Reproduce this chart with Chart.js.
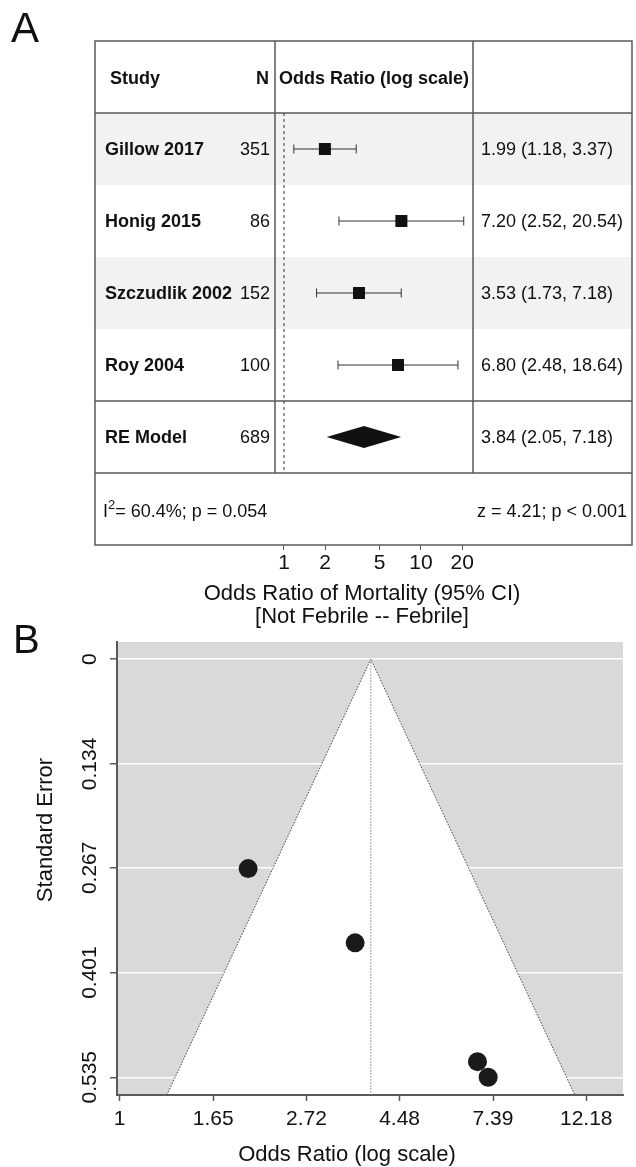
<!DOCTYPE html>
<html>
<head>
<meta charset="utf-8">
<script src="https://cdn.jsdelivr.net/npm/chart.js@4.4.0/dist/chart.umd.min.js"></script>
<style>
  html, body { margin: 0; padding: 0; background: #fff; }
  #wrap { position: relative; width: 636px; height: 1167px; }
  canvas { position: absolute; left: 0; }
  #forest { top: 0; width: 636px; height: 640px; }
  #funnel { top: 600px; width: 636px; height: 567px; }
</style>
</head>
<body>
<div id="wrap">
  <canvas id="forest" width="636" height="640"></canvas>
  <canvas id="funnel" width="636" height="567"></canvas>
</div>
<script>
// study level data
const studies = ["Gillow 2017", "Honig 2015", "Szczudlik 2002", "Roy 2004"];
const sampleN = [351, 86, 152, 100];
const oddsRatio = [1.99, 7.20, 3.53, 6.80];
const ciLow = [1.18, 2.52, 1.73, 2.48];
const ciHigh = [3.37, 20.54, 7.18, 18.64];
const stdError = [0.268, 0.535, 0.363, 0.515];

// random effects summary
const reLabel = "RE Model";
const reN = 689;
const reOR = 3.84;
const reLow = 2.05;
const reHigh = 7.18;
const hetI2 = "60.4%";
const hetP = "0.054";
const zValue = "4.21";
const zP = "< 0.001";

// axis ticks
const forestTicks = [1, 2, 5, 10, 20];
const funnelXTicks = [1, 1.65, 2.72, 4.48, 7.39, 12.18];
const funnelYTicks = [0, 0.134, 0.267, 0.401, 0.535];

const FONT = '"Liberation Sans", Arial, Helvetica, sans-serif';
const INK = "#111";
const LINE = "#5a5a5a";
const Z95 = 1.96;

const fmt = (v) => v.toFixed(2);

// ---------- panel A : forest plot ----------
const forestTable = {
  id: "forestTable",
  beforeDatasetsDraw(chart) {
    const { ctx, chartArea: a, scales: { x, y } } = chart;
    const L = 95, R = 632;
    const top = (i) => y.getPixelForValue(i - 0.5);
    ctx.save();
    ctx.fillStyle = "#f2f2f2";
    [1, 3].forEach((i) => ctx.fillRect(L, top(i), R - L, top(i + 1) - top(i)));

    ctx.strokeStyle = LINE;
    ctx.lineWidth = 1.5;
    ctx.strokeRect(L, a.top, R - L, a.bottom - a.top);
    ctx.beginPath();
    [1, 5, 6].forEach((i) => { ctx.moveTo(L, top(i)); ctx.lineTo(R, top(i)); });
    ctx.moveTo(a.left, a.top); ctx.lineTo(a.left, top(6));
    ctx.moveTo(a.right, a.top); ctx.lineTo(a.right, top(6));
    ctx.stroke();

    // null line
    const x1 = x.getPixelForValue(1);
    ctx.strokeStyle = "#333";
    ctx.lineWidth = 1;
    ctx.setLineDash([3, 3]);
    ctx.beginPath();
    ctx.moveTo(x1, top(1)); ctx.lineTo(x1, top(6));
    ctx.stroke();
    ctx.setLineDash([]);

    // confidence intervals
    ctx.strokeStyle = "#333";
    studies.forEach((s, i) => {
      const yc = y.getPixelForValue(i + 1);
      const xl = x.getPixelForValue(ciLow[i]);
      const xh = x.getPixelForValue(ciHigh[i]);
      ctx.beginPath();
      ctx.moveTo(xl, yc); ctx.lineTo(xh, yc);
      ctx.moveTo(xl, yc - 4.5); ctx.lineTo(xl, yc + 4.5);
      ctx.moveTo(xh, yc - 4.5); ctx.lineTo(xh, yc + 4.5);
      ctx.stroke();
    });

    // summary diamond
    const yd = y.getPixelForValue(5);
    ctx.fillStyle = INK;
    ctx.beginPath();
    ctx.moveTo(x.getPixelForValue(reLow), yd);
    ctx.lineTo(x.getPixelForValue(reOR), yd - 11);
    ctx.lineTo(x.getPixelForValue(reHigh), yd);
    ctx.lineTo(x.getPixelForValue(reOR), yd + 11);
    ctx.closePath();
    ctx.fill();
    ctx.restore();
  },
  afterDraw(chart) {
    const { ctx, chartArea: a, scales: { y } } = chart;
    const bold = `bold 18px ${FONT}`;
    const norm = `18px ${FONT}`;
    ctx.save();
    ctx.fillStyle = INK;
    ctx.textBaseline = "middle";
    const put = (t, px, py, font, align) => { ctx.font = font; ctx.textAlign = align; ctx.fillText(t, px, py); };

    const yh = y.getPixelForValue(0) + 2;
    put("Study", 110, yh, bold, "left");
    put("N", 269, yh, bold, "right");
    put("Odds Ratio (log scale)", (a.left + a.right) / 2, yh, bold, "center");

    studies.forEach((s, i) => {
      const yc = y.getPixelForValue(i + 1) + 1;
      put(s, 105, yc, bold, "left");
      put(String(sampleN[i]), 270, yc, norm, "right");
      put(`${fmt(oddsRatio[i])} (${fmt(ciLow[i])}, ${fmt(ciHigh[i])})`, 481, yc, norm, "left");
    });
    const yr = y.getPixelForValue(5) + 1;
    put(reLabel, 105, yr, bold, "left");
    put(String(reN), 270, yr, norm, "right");
    put(`${fmt(reOR)} (${fmt(reLow)}, ${fmt(reHigh)})`, 481, yr, norm, "left");

    // heterogeneity row
    const ys = y.getPixelForValue(6) + 3;
    let xx = 103;
    put("I", xx, ys, norm, "left"); xx += ctx.measureText("I").width;
    put("2", xx, ys - 7, `13px ${FONT}`, "left"); xx += ctx.measureText("2").width;
    put(`= ${hetI2}; p = ${hetP}`, xx, ys, norm, "left");
    put(`z = ${zValue}; p ${zP}`, 627, ys, norm, "right");

    // axis title
    put("Odds Ratio of Mortality (95% CI)", 362, 594, `22px ${FONT}`, "center");
    put("[Not Febrile -- Febrile]", 362, 617, `22px ${FONT}`, "center");

    ctx.textBaseline = "alphabetic";
    put("A", 11, 42, `42px ${FONT}`, "left");
    ctx.restore();
  }
};

new Chart(document.getElementById("forest"), {
  type: "scatter",
  data: {
    datasets: [{
      data: oddsRatio.map((v, i) => ({ x: v, y: i + 1 })),
      pointStyle: "rect",
      pointRadius: 8.5,
      backgroundColor: INK,
      borderWidth: 0,
    }],
  },
  options: {
    responsive: false,
    animation: false,
    events: [],
    layout: { padding: { left: 275, right: 163, top: 41, bottom: 0 } },
    plugins: { legend: { display: false }, tooltip: { enabled: false } },
    scales: {
      x: {
        type: "logarithmic",
        min: 0.86,
        max: 24,
        afterBuildTicks: (s) => { s.ticks = forestTicks.map((v) => ({ value: v })); },
        afterFit: (s) => { s.height = 95; },
        grid: { drawOnChartArea: false, tickLength: 5, tickColor: LINE, tickWidth: 1 },
        border: { display: false },
        ticks: {
          callback: (v) => String(v),
          autoSkip: false,
          maxRotation: 0,
          padding: 1,
          color: INK,
          font: { family: FONT, size: 21, lineHeight: 1.2 },
        },
      },
      y: { type: "linear", reverse: true, min: -0.5, max: 6.5, display: false },
    },
  },
  plugins: [forestTable],
});

// ---------- panel B : funnel plot ----------
const funnelBg = {
  id: "funnelBg",
  beforeDraw(chart) {
    const { ctx, chartArea: a, scales: { x, y } } = chart;
    const seMax = y.max;
    const lnEst = Math.log(reOR);
    ctx.save();
    ctx.fillStyle = "#d9d9d9";
    ctx.fillRect(a.left, a.top, a.right - a.left, a.bottom - a.top);
    ctx.fillStyle = "#fff";
    ctx.beginPath();
    ctx.moveTo(x.getPixelForValue(reOR), y.getPixelForValue(0));
    ctx.lineTo(x.getPixelForValue(Math.exp(lnEst - Z95 * seMax)), y.getPixelForValue(seMax));
    ctx.lineTo(x.getPixelForValue(Math.exp(lnEst + Z95 * seMax)), y.getPixelForValue(seMax));
    ctx.closePath();
    ctx.fill();
    ctx.restore();
  },
  beforeDatasetsDraw(chart) {
    const { ctx, scales: { x, y } } = chart;
    const seMax = y.max;
    const lnEst = Math.log(reOR);
    const xe = x.getPixelForValue(reOR);
    const y0 = y.getPixelForValue(0);
    const yb = y.getPixelForValue(seMax);
    ctx.save();
    ctx.lineWidth = 1;
    ctx.setLineDash([1.5, 1.5]);
    ctx.strokeStyle = "#444";
    ctx.beginPath();
    ctx.moveTo(x.getPixelForValue(Math.exp(lnEst - Z95 * seMax)), yb);
    ctx.lineTo(xe, y0);
    ctx.lineTo(x.getPixelForValue(Math.exp(lnEst + Z95 * seMax)), yb);
    ctx.stroke();
    ctx.strokeStyle = "#888";
    ctx.beginPath();
    ctx.moveTo(xe, y0); ctx.lineTo(xe, yb);
    ctx.stroke();
    ctx.restore();
  },
  afterDraw(chart) {
    const { ctx } = chart;
    ctx.save();
    ctx.fillStyle = INK;
    ctx.font = `22px ${FONT}`;
    ctx.textAlign = "center";
    ctx.textBaseline = "middle";
    ctx.fillText("Odds Ratio (log scale)", 347, 555);
    ctx.translate(46, 230);
    ctx.rotate(-Math.PI / 2);
    ctx.fillText("Standard Error", 0, 0);
    ctx.restore();
    ctx.save();
    ctx.fillStyle = INK;
    ctx.font = `40px ${FONT}`;
    ctx.textBaseline = "alphabetic";
    ctx.fillText("B", 13, 53);
    ctx.restore();
  }
};

new Chart(document.getElementById("funnel"), {
  type: "scatter",
  data: {
    datasets: [{
      data: oddsRatio.map((v, i) => ({ x: v, y: stdError[i] })),
      pointRadius: 9.5,
      backgroundColor: "#1a1a1a",
      borderWidth: 0,
    }],
  },
  options: {
    responsive: false,
    animation: false,
    events: [],
    layout: { padding: { left: 0, right: 13, top: 42, bottom: 0 } },
    plugins: { legend: { display: false }, tooltip: { enabled: false } },
    scales: {
      x: {
        type: "logarithmic",
        min: 0.9856,
        max: 14.83,
        afterBuildTicks: (s) => { s.ticks = funnelXTicks.map((v) => ({ value: v })); },
        afterFit: (s) => { s.height = 72; },
        grid: { drawOnChartArea: false, tickLength: 6, tickColor: LINE, tickWidth: 1.5 },
        border: { color: LINE, width: 2 },
        ticks: {
          callback: (v) => String(v),
          autoSkip: false,
          maxRotation: 0,
          padding: 6,
          color: INK,
          font: { family: FONT, size: 21, lineHeight: 1.2 },
        },
      },
      y: {
        type: "linear",
        reverse: true,
        min: -0.022,
        max: 0.5577,
        afterBuildTicks: (s) => { s.ticks = funnelYTicks.map((v) => ({ value: v })); },
        afterFit: (s) => { s.width = 117; },
        grid: { color: "#fff", lineWidth: 1.5, tickLength: 7, tickColor: LINE, tickWidth: 1.5 },
        border: { color: LINE, width: 2 },
        ticks: {
          callback: (v) => String(v),
          autoSkip: false,
          minRotation: 90,
          maxRotation: 90,
          crossAlign: "center",
          padding: -6,
          color: INK,
          font: { family: FONT, size: 21, lineHeight: 1.2 },
        },
      },
    },
  },
  plugins: [funnelBg],
});
</script>
</body>
</html>
